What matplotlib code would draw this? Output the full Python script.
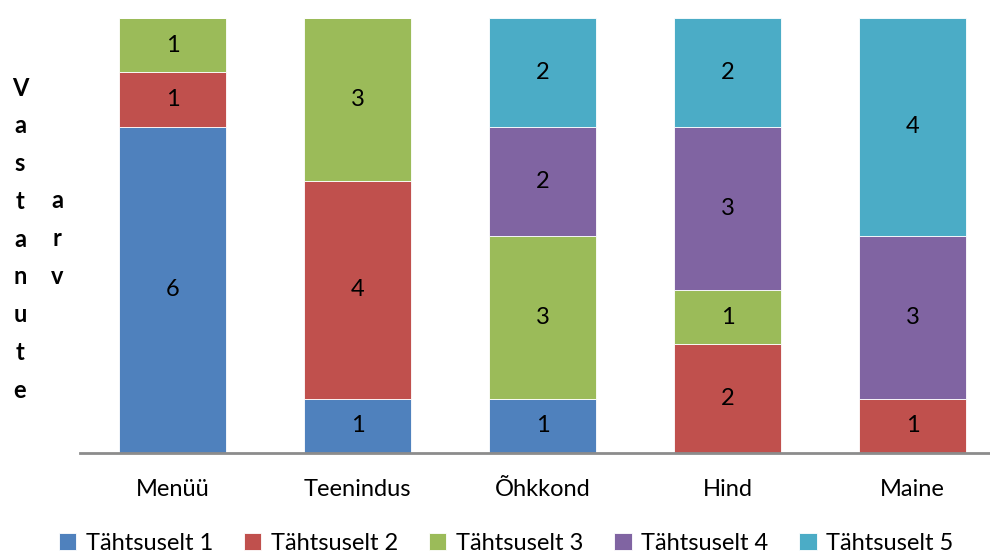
import matplotlib.pyplot as plt
import numpy as np

plt.rcParams['font.family'] = ['Lato', 'DejaVu Sans']

categories = ["Menüü", "Teenindus", "Õhkkond", "Hind", "Maine"]
series = ["Tähtsuselt 1", "Tähtsuselt 2", "Tähtsuselt 3", "Tähtsuselt 4", "Tähtsuselt 5"]
t1 = [6, 1, 1, 0, 0]
t2 = [1, 4, 0, 2, 1]
t3 = [1, 3, 3, 1, 0]
t4 = [0, 0, 2, 3, 3]
t5 = [0, 0, 2, 2, 4]
colors = ['#4F81BD', '#C0504D', '#9BBB59', '#8064A2', '#4BACC6']

fig = plt.figure(figsize=(9.9, 5.53), dpi=100)
ax = fig.add_axes([80/990, 100/553, 910/990, 435/553])

x = np.arange(len(categories))
bottom = np.zeros(len(categories))
for name, vals, c in zip(series, [t1, t2, t3, t4, t5], colors):
    vals = np.array(vals, dtype=float)
    bars = ax.bar(x, vals, 0.573, bottom=bottom, color=c, label=name,
                  edgecolor='#ffffff', linewidth=0.6)
    for b, v in zip(bars, vals):
        if v > 0:
            ax.text(b.get_x() + b.get_width()/2, b.get_y() + v/2, "%d" % v,
                    ha='center', va='center', fontsize=17, color='black')
    bottom += vals

ax.set_xlim(-0.5, -0.5 + 910/185)
ax.set_ylim(0, 8)
ax.set_yticks([])
ax.set_xticks(x)
ax.set_xticklabels(categories, fontsize=17)
ax.tick_params(axis='x', length=0, pad=19)
for s in ['top', 'right', 'left']:
    ax.spines[s].set_visible(False)
ax.spines['bottom'].set_color('#8c8c8c')
ax.spines['bottom'].set_linewidth(2)

# pystysuunnainen akselin otsikko, kirjain kerrallaan
for i, ch in enumerate("Vastanute"):
    fig.text(20/990, 1 - (88 + i*37.8)/553, ch, ha='center', va='center',
             fontsize=17, fontweight='bold')
for i, ch in enumerate("arv"):
    fig.text(57/990, 1 - (201 + i*37.8)/553, ch, ha='center', va='center',
             fontsize=17, fontweight='bold')

fig.legend(loc='center', bbox_to_anchor=(0.511, 1 - 543/553), ncol=5, frameon=False,
           fontsize=17, handlelength=0.75, handleheight=0.75, handletextpad=0.4,
           columnspacing=1.3, borderaxespad=0)

fig.savefig('out.png', dpi=100)
